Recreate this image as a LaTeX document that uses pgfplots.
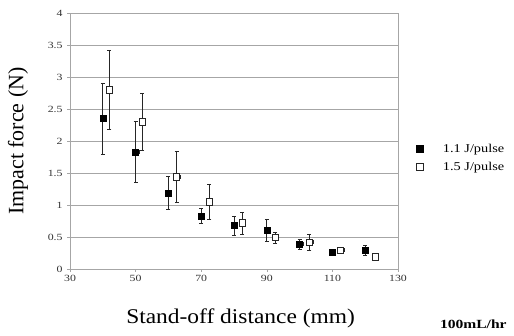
\documentclass[border=0pt]{standalone}
\usepackage{pgfplots}
\pgfplotsset{compat=1.18}
\usepackage{fontspec}
\setmainfont{Liberation Serif}
\begin{document}
\begin{tikzpicture}[x=1bp,y=1bp]
\path[use as bounding box] (0,0) rectangle (514,335);
\begin{axis}[
  at={(70bp,66bp)}, anchor=south west,
  scale only axis, width=328bp, height=256bp,
  xmin=30, xmax=130, ymin=0, ymax=4,
  xtick={30,50,...,130},
  ytick={0,0.5,...,4},
  yticklabel style={/pgf/number format/fixed},
  /pgf/number format/assume math mode=true,
  tick label style={font=\fontsize{9.5}{10}\selectfont, text=black!80, xscale=1.25},
  ymajorgrids, grid style={gray!70, line width=0.6pt},
  axis line style={gray!70, line width=0.6pt},
  tick style={gray!70, line width=0.6pt},
  tick align=outside, major tick length=3bp,
  xtick pos=bottom, ytick pos=left,
  xlabel={Stand-off distance (mm)},
  ylabel={Impact force (N)},
  xlabel style={font=\fontsize{21}{24}\selectfont, xscale=1.12, at={(axis description cs:0.52,0)}, yshift=-36bp},
  ylabel style={font=\fontsize{22}{24}\selectfont, yshift=12bp},
  legend style={at={(1.045,0.434)}, anchor=west, draw=none, fill=none,
    font=\fontsize{12}{14}\selectfont, row sep=4pt,
    nodes={xscale=1.2}},
  legend cell align=left,
  legend image code/.code={\path[draw=none,fill=none] (0,0) -- (0.74cm,0); \draw[#1, mark size=3.6pt] plot coordinates {(0cm,0cm)};},
]
\addplot[only marks, mark=square*, mark size=3.1pt, mark options={fill=black, draw=black},
  error bars/.cd, y dir=both, y explicit, x dir=plus, x explicit,
  error bar style={black!85, line width=0.7pt}, error mark options={rotate=90, mark size=2pt, black!85}]
  coordinates {
  (40,2.35) +- (1,0.56)
  (50,1.83) +- (1,0.48)
  (60,1.19) +- (1,0.26)
  (70,0.83) +- (1,0.12)
  (80,0.68) +- (1,0.15)
  (90,0.61) +- (1,0.17)
  (100,0.39) +- (1,0.08)
  (110,0.26) +- (1,0.03)
  (120,0.29) +- (1,0.08)
  };
\addlegendentry{1.1 J/pulse}
\addplot[only marks, mark=square*, mark size=3.1pt, mark options={fill=white, draw=black!85, line width=0.7pt},
  error bars/.cd, y dir=both, y explicit, x dir=plus, x explicit,
  error bar style={black!85, line width=0.7pt}, error mark options={rotate=90, mark size=2pt, black!85}]
  coordinates {
  (42,2.80) +- (1,0.62)
  (52,2.30) +- (1,0.44)
  (62.5,1.44) +- (1,0.40)
  (72.5,1.05) +- (1,0.27)
  (82.5,0.72) +- (1,0.17)
  (92.5,0.49) +- (1,0.09)
  (103,0.42) +- (1,0.12)
  (112.5,0.29) +- (1,0.05)
  (123,0.19) +- (1,0.035)
  };
\addlegendentry{1.5 J/pulse}
\end{axis}
\node[anchor=base east, font=\bfseries\fontsize{12.5}{13}\selectfont, xscale=1.25] at (511,7) {100mL/hr};
\end{tikzpicture}
\end{document}
